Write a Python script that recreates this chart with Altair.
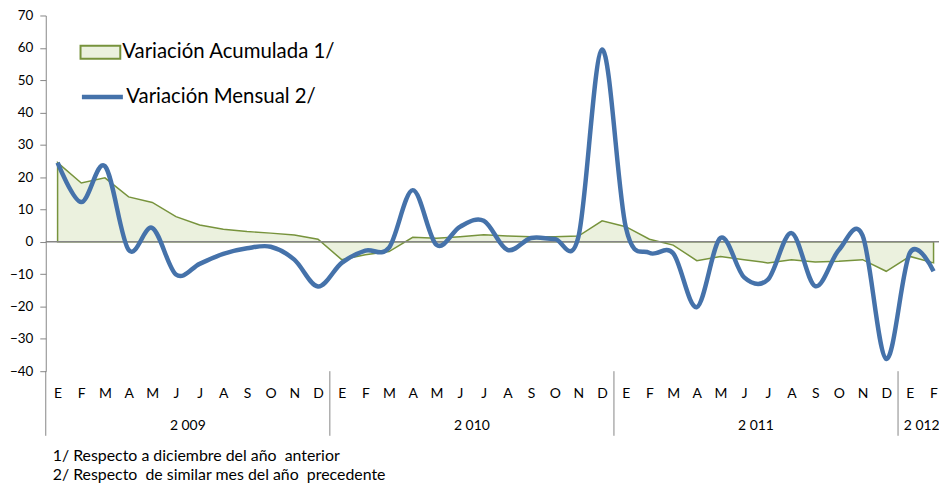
import altair as alt
import pandas as pd

# ---- data ----
MONTHS = ["E", "F", "M", "A", "M", "J", "J", "A", "S", "O", "N", "D"]
YEARS = ["2 009", "2 010", "2 011", "2 012"]
YEAR_CENTERS = [5.5, 17.5, 29.5, 36.5]
YEAR_SEPARATORS = [-0.5, 11.5, 23.5, 35.5]

MENSUAL = [24.5, 12.3, 23.4, -2.5, 4.3, -10.1, -6.8, -3.7, -2.0, -1.5, -5.5, -13.8,
           -6.5, -2.7, -1.8, 16.0, -0.9, 4.7, 6.5, -2.5, 1.2, 0.9, 1.6, 59.5,
           4.5, -3.4, -3.5, -20.2, 1.2, -11.0, -11.7, 2.7, -13.7, -2.5, 2.0, -36.2,
           -3.4, -9.1]
ACUMULADA = [24.5, 18.2, 19.8, 13.9, 12.2, 7.8, 5.2, 3.9, 3.2, 2.7, 2.1, 0.8,
             -5.5, -4.0, -3.0, 1.4, 1.1, 1.6, 2.2, 1.8, 1.6, 1.6, 1.8, 6.5,
             4.7, 0.8, -1.0, -5.8, -4.5, -5.5, -6.5, -5.5, -6.2, -6.0, -5.5, -9.1,
             -4.5, -6.5]
SERIES = ["Variación Acumulada 1/", "Variación Mensual 2/"]
FOOTNOTES = ["1/ Respecto a diciembre del año \u00a0anterior",
             "2/ Respecto \u00a0de similar mes del año \u00a0precedente"]
Y_TICKS = list(range(-40, 71, 10))

FONT = "Lato"
W, H = 899, 358
X_DOMAIN = [-0.5, 37.23]

n = len(MENSUAL)
df = pd.DataFrame({
    "i": list(range(n)),
    "mensual": MENSUAL,
    "acumulada": ACUMULADA,
    "s_acu": SERIES[0],
    "s_men": SERIES[1],
})

label_expr = "[" + ",".join(f"'{m}'" for m in MONTHS) + "][datum.value % 12]"

xscale = alt.Scale(domain=X_DOMAIN, nice=False, zero=False)
x_axis = alt.Axis(values=list(range(n)), labelExpr=label_expr, domain=False, ticks=False,
                  grid=False, labelFont=FONT, labelFontSize=14, labelColor="#000",
                  labelBaseline="middle", labelPadding=22, labelFlush=False,
                  labelOverlap=False, title=None)
y_axis = alt.Axis(values=Y_TICKS, grid=False, domainColor="#868686", tickColor="#868686",
                  tickSize=6, labelFont=FONT, labelFontSize=13.5, labelColor="#000",
                  labelPadding=7, labelOverlap=False, title=None)
yscale = alt.Scale(domain=[-40, 70], nice=False)

base = alt.Chart(df)

area = base.mark_area(stroke="#77933C", strokeWidth=1.5, opacity=1).encode(
    x=alt.X("i:Q", scale=xscale, axis=x_axis),
    y=alt.Y("acumulada:Q", scale=yscale, axis=y_axis),
    fill=alt.Fill("s_acu:N",
                  scale=alt.Scale(domain=[SERIES[0]], range=["#EBF1DE"]),
                  legend=alt.Legend(orient="none", legendX=34, legendY=16, title=None,
                                    symbolType="M-1,-0.33H1V0.33H-1Z", symbolSize=1600,
                                    symbolStrokeColor="#77933C", symbolStrokeWidth=2,
                                    symbolFillColor="#EBF1DE", labelLimit=0,
                                    labelFont=FONT, labelFontSize=20.5, labelColor="#000",
                                    labelOffset=1, padding=0)),
)

zero = alt.Chart(pd.DataFrame({"z": [0]})).mark_rule(color="#868686", strokeWidth=1.5).encode(
    y=alt.Y("z:Q", scale=yscale, axis=y_axis)
)

line = base.mark_line(strokeWidth=4.5, interpolate="cardinal").encode(
    x=alt.X("i:Q", scale=xscale, axis=x_axis),
    y=alt.Y("mensual:Q", scale=yscale, axis=y_axis),
    stroke=alt.Stroke("s_men:N",
                      scale=alt.Scale(domain=[SERIES[1]], range=["#4572AA"]),
                      legend=alt.Legend(orient="none", legendX=34, legendY=59, title=None,
                                        symbolType="stroke", symbolSize=1700,
                                        symbolStrokeWidth=4.5, labelLimit=0,
                                        labelFont=FONT, labelFontSize=20.5, labelColor="#000",
                                        labelOffset=1, padding=0)),
)

seps = alt.Chart(pd.DataFrame({"p": YEAR_SEPARATORS})).mark_rule(color="#868686", strokeWidth=1).encode(
    x=alt.X("p:Q", scale=xscale, axis=x_axis),
    y=alt.value(H),
    y2=alt.value(H + 65),
)

years = alt.Chart(pd.DataFrame({"c": YEAR_CENTERS, "t": YEARS})).mark_text(
    font=FONT, fontSize=14, color="#000", baseline="middle", align="center"
).encode(
    x=alt.X("c:Q", scale=xscale, axis=x_axis),
    y=alt.value(H + 55),
    text="t:N",
)

notes = [
    alt.Chart(pd.DataFrame({"t": [txt]})).mark_text(
        font=FONT, fontSize=16, color="#000", baseline="middle", align="left"
    ).encode(x=alt.value(7), y=alt.value(H + 85 + 20 * k), text="t:N")
    for k, txt in enumerate(FOOTNOTES)
]

chart = alt.layer(area, zero, line, seps, years, *notes).resolve_scale(
    fill="independent", stroke="independent"
).properties(
    width=W, height=H,
    autosize=alt.AutoSizeParams(type="none"),
    padding={"left": 38, "top": 6, "right": 0, "bottom": 115},
).configure_view(stroke=None)

chart.save("out.html", embed_options={"renderer": "svg", "actions": False})
